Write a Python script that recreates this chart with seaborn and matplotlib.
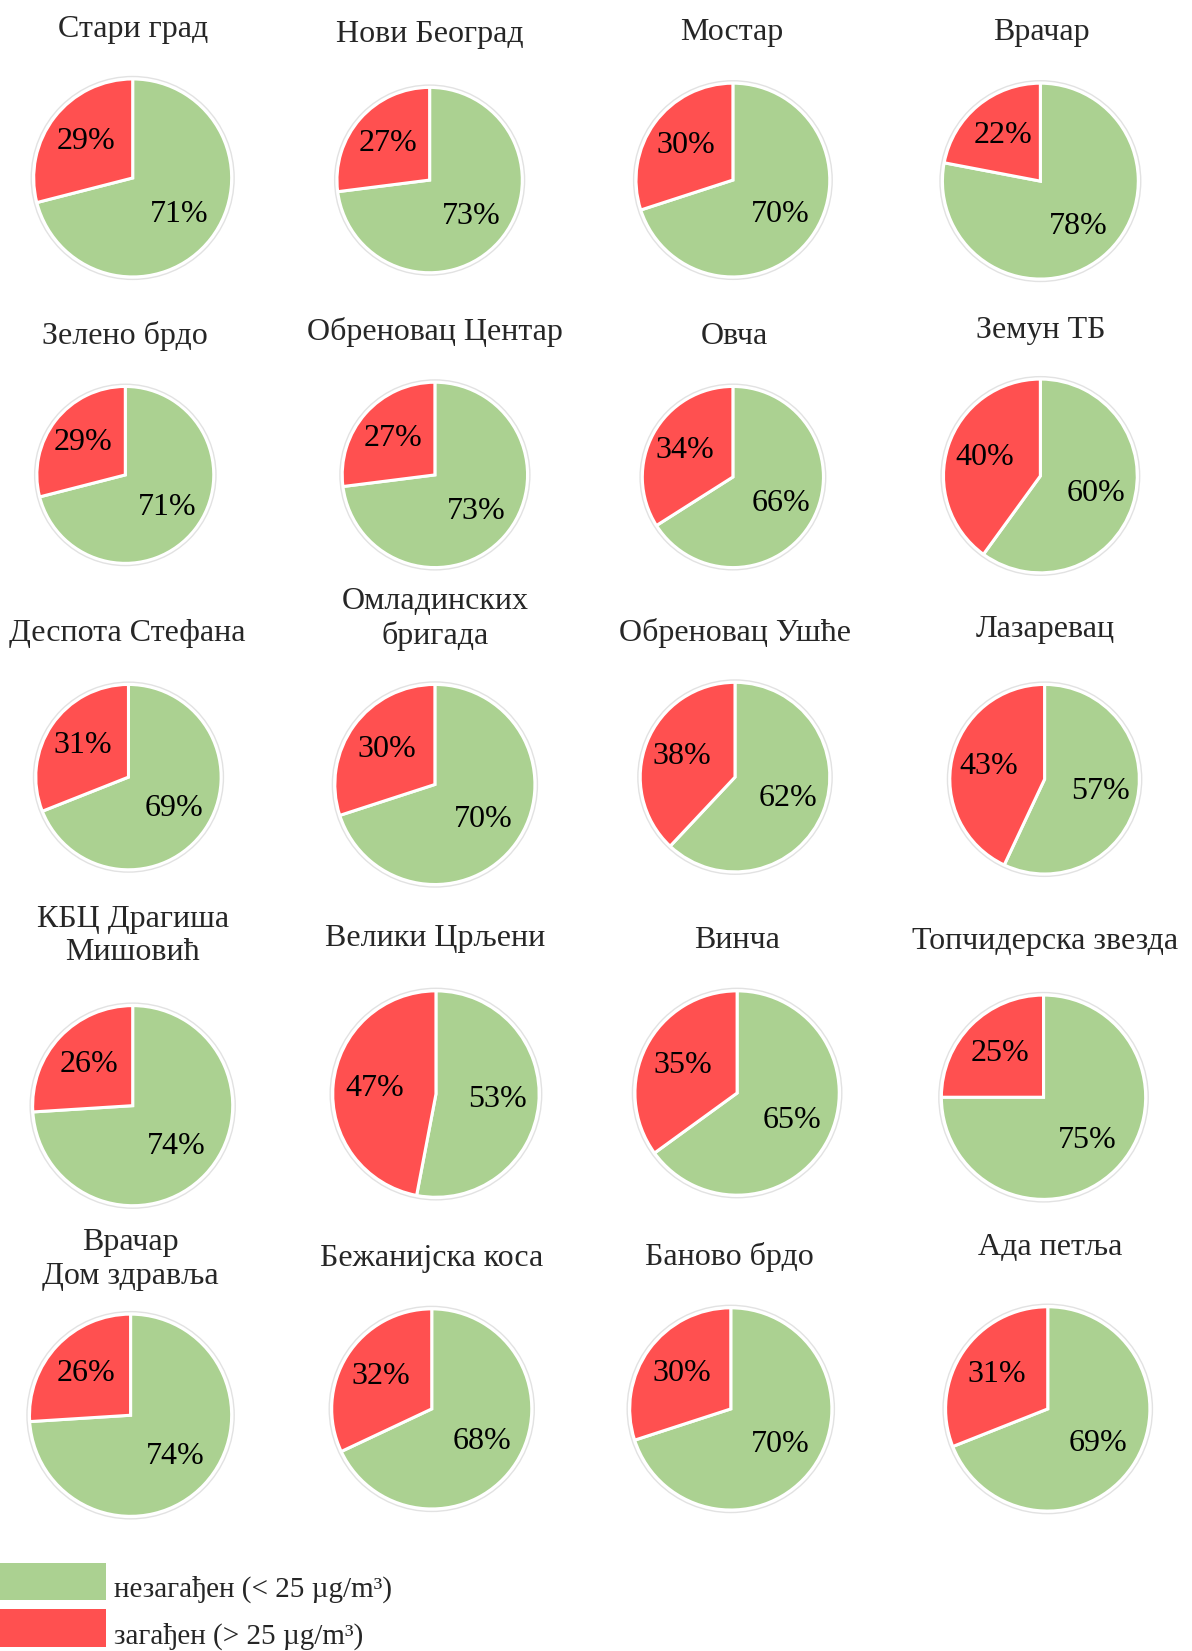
import matplotlib
matplotlib.use("Agg")
import matplotlib.pyplot as plt
from matplotlib.patches import Circle, Rectangle
import seaborn as sns

# Share of days per station: clean (< 25 µg/m³) vs polluted (> 25 µg/m³)
stations = [
    "Стари град", "Нови Београд", "Мостар", "Врачар",
    "Зелено брдо", "Обреновац Центар", "Овча", "Земун ТБ",
    "Деспота Стефана", "Омладинских\nбригада", "Обреновац Ушће", "Лазаревац",
    "КБЦ Драгиша\nМишовић", "Велики Црљени", "Винча", "Топчидерска звезда",
    "Врачар\nДом здравља", "Бежанијска коса", "Баново брдо", "Ада петља",
]
clean = [71, 73, 70, 78, 71, 73, 66, 60, 69, 70, 62, 57, 74, 53, 65, 75, 74, 68, 70, 69]
polluted = [29, 27, 30, 22, 29, 27, 34, 40, 31, 30, 38, 43, 26, 47, 35, 25, 26, 32, 30, 31]
legend_labels = ["незагађен (< 25 µg/m³)", "загађен (> 25 µg/m³)"]

sns.set_theme(style="white")
plt.rcParams["font.family"] = ["Liberation Serif", "DejaVu Serif"]

W, H = 1192, 1651
SCALE = 1192 / 1132
colors = ["#abd191", "#ff5050"]

# pie centre (x, y) and radius in layout pixels
pie_layout = [
    (126, 169, 94), (408, 171, 88), (696, 171, 92), (988, 172, 93),
    (119, 451, 84), (413, 451, 88), (696, 453, 86), (988, 452, 92),
    (122, 738, 88), (413, 745, 95), (698, 738, 90), (992, 740, 90),
    (126, 1050, 95), (414, 1039, 98), (700, 1038, 97), (991, 1042, 97),
    (124, 1344, 96), (410, 1338, 95), (694, 1338, 96), (995, 1338, 97),
]
# title centre (x, y)
title_layout = [
    (126, 28), (408, 33), (695, 31), (989, 31),
    (119, 319), (413, 315), (697, 320), (988, 314),
    (121, 602), (413, 588), (698, 601), (993, 598),
    (126, 889), (413, 891), (700, 893), (992, 894),
    (124, 1196), (410, 1195), (693, 1194), (997, 1185),
]

fig = plt.figure(figsize=(W / 100, H / 100), dpi=100)
fig.patch.set_facecolor("white")

pad = 1.06
for name, c, p, (cx, cy, r), (tx, ty) in zip(stations, clean, polluted, pie_layout, title_layout):
    cx, cy, r = cx * SCALE, cy * SCALE, r * SCALE
    half = r * pad
    ax = fig.add_axes([(cx - half) / W, 1 - (cy + half) / H, 2 * half / W, 2 * half / H])
    ax.pie(
        [c, p],
        colors=colors,
        startangle=90,
        counterclock=False,
        autopct="%1.0f%%",
        pctdistance=0.6,
        wedgeprops=dict(edgecolor="white", linewidth=2.2),
        textprops=dict(fontsize=23, color="black"),
    )
    ax.add_patch(Circle((0, 0), 1.025, fill=False, edgecolor="#e2e2e2", linewidth=1.0))
    ax.set_xlim(-pad, pad)
    ax.set_ylim(-pad, pad)
    ax.set_aspect("equal")
    ax.axis("off")
    fig.text(tx * SCALE / W, 1 - ty * SCALE / H, name, ha="center", va="center",
             fontsize=23, linespacing=1.2)

# legend: colour blocks with labels
blocks = [(1484, 1519), (1528, 1564)]
for (y0, y1), col, lab in zip(blocks, colors, legend_labels):
    y0f, y1f = y0 * SCALE, y1 * SCALE
    fig.add_artist(Rectangle((0, 1 - y1f / H), 101 * SCALE / W, (y1f - y0f) / H,
                             transform=fig.transFigure, facecolor=col, edgecolor="none"))
    fig.text(108 * SCALE / W, 1 - (y1 - 10) * SCALE / H, lab, ha="left", va="center",
             fontsize=21)

fig.savefig("out.png", dpi=100, facecolor="white")
